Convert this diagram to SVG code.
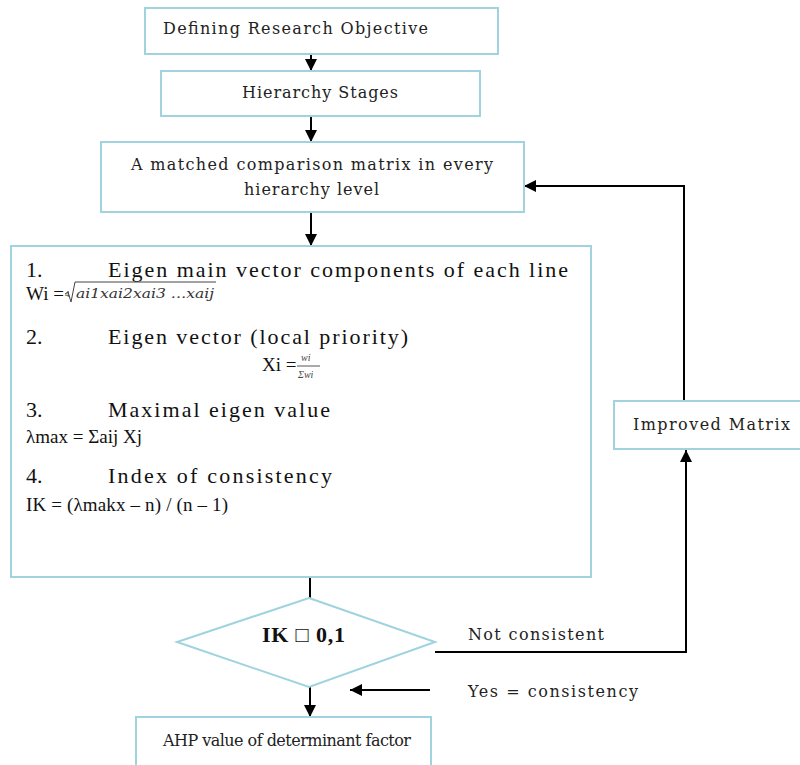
<svg xmlns="http://www.w3.org/2000/svg" width="800" height="765" viewBox="0 0 800 765">
<defs>
<style>
.box{fill:#fff;stroke:#9fd3df;stroke-width:2}
.ln{fill:none;stroke:#000;stroke-width:2}
.t{font-family:"DejaVu Serif","Liberation Serif",serif;font-size:16px;fill:#222}
.b{font-family:"Liberation Serif","Times New Roman",serif;font-size:22px;fill:#111}
.f{font-family:"Liberation Serif","Times New Roman",serif;font-size:19px;fill:#111}
.m{font-family:"DejaVu Serif","Liberation Serif",serif;font-size:13px;font-style:italic;fill:#333}
</style>
<marker id="ah2" viewBox="0 0 10 10" refX="10" refY="5" markerWidth="12" markerHeight="12" orient="auto" markerUnits="userSpaceOnUse">
<path d="M0,0L10,5L0,10z" fill="#000"/>
</marker>
</defs>
<rect width="800" height="765" fill="#fff"/>
<g id="connectors">
<line class="ln" x1="311" y1="54" x2="311" y2="71" marker-end="url(#ah2)"/>
<line class="ln" x1="311" y1="116" x2="311" y2="142" marker-end="url(#ah2)"/>
<line class="ln" x1="311" y1="212" x2="311" y2="246" marker-end="url(#ah2)"/>
<line class="ln" x1="310" y1="577" x2="310" y2="598"/>
<line class="ln" x1="310" y1="687" x2="310" y2="717" marker-end="url(#ah2)"/>
<polyline class="ln" points="435,652 686,652 686,450" marker-end="url(#ah2)"/>
<polyline class="ln" points="684,401 684,186 524,186" marker-end="url(#ah2)"/>
<line class="ln" x1="430" y1="690" x2="350" y2="690" marker-end="url(#ah2)"/>
</g>
<g id="n1">
<rect class="box" x="145" y="8" width="353" height="46"/>
<text class="t" x="163" y="34" textLength="265" lengthAdjust="spacing">Defining Research Objective</text>
</g>
<g id="n2">
<rect class="box" x="161" y="71" width="319" height="45"/>
<text class="t" x="242" y="98" textLength="156" lengthAdjust="spacing">Hierarchy Stages</text>
</g>
<g id="n3">
<rect class="box" x="101" y="142" width="423" height="70"/>
<text class="t" x="131" y="170" textLength="362" lengthAdjust="spacing">A matched comparison matrix in every</text>
<text class="t" x="244" y="195" textLength="135" lengthAdjust="spacing">hierarchy level</text>
</g>
<g id="n4">
<rect class="box" x="11" y="246" width="580" height="331"/>
<text class="b" x="26" y="277">1.</text>
<text class="b" x="108" y="277" textLength="460" lengthAdjust="spacing">Eigen main vector components of each line</text>
<text class="f" x="26" y="300">Wi =</text>
<text x="65" y="297" font-family="Liberation Serif,serif" font-size="9" fill="#333">4</text>
<path d="M65,294 L68,292 L71,302 L75,282 L216,282" fill="none" stroke="#444" stroke-width="1"/>
<text class="m" x="76" y="298" textLength="138" lengthAdjust="spacingAndGlyphs">ai1xai2xai3 …xaij</text>
<text class="b" x="26" y="344">2.</text>
<text class="b" x="108" y="344" textLength="300" lengthAdjust="spacing">Eigen vector (local priority)</text>
<text class="f" x="262" y="371">Xi =</text>
<text x="301" y="361" font-family="Liberation Serif,serif" font-size="10" font-style="italic" fill="#444">wi</text>
<line x1="297" y1="366" x2="320" y2="366" stroke="#555" stroke-width="1"/>
<text x="298" y="378" font-family="Liberation Serif,serif" font-size="10" font-style="italic" fill="#444">Σwi</text>
<text class="b" x="26" y="417">3.</text>
<text class="b" x="108" y="417" textLength="222" lengthAdjust="spacing">Maximal eigen value</text>
<text class="f" x="26" y="443">λmax = Σaij Xj</text>
<text class="b" x="26" y="483">4.</text>
<text class="b" x="108" y="483" textLength="224" lengthAdjust="spacing">Index of consistency</text>
<text class="f" x="26" y="511" textLength="202" lengthAdjust="spacing">IK = (λmakx – n) / (n – 1)</text>
</g>
<g id="n5">
<polygon points="309,598 435,642 309,687 177,642" fill="#fff" stroke="#9fd3df" stroke-width="2"/>
<text x="262" y="642" font-family="Liberation Serif,serif" font-size="22" font-weight="bold" fill="#111" textLength="83" lengthAdjust="spacing">IK □ 0,1</text>
</g>
<g id="n6">
<rect class="box" x="614" y="401" width="190" height="48"/>
<text class="t" x="633" y="430" textLength="157" lengthAdjust="spacing">Improved Matrix</text>
</g>
<g id="n7">
<rect class="box" x="136" y="717" width="295" height="60"/>
<text class="t" x="163" y="746" textLength="248" lengthAdjust="spacing">AHP value of determinant factor</text>
</g>
<g id="labels">
<text class="t" x="468" y="640" textLength="136" lengthAdjust="spacing">Not consistent</text>
<text class="t" x="468" y="697" textLength="170" lengthAdjust="spacing">Yes = consistency</text>
</g>
</svg>
